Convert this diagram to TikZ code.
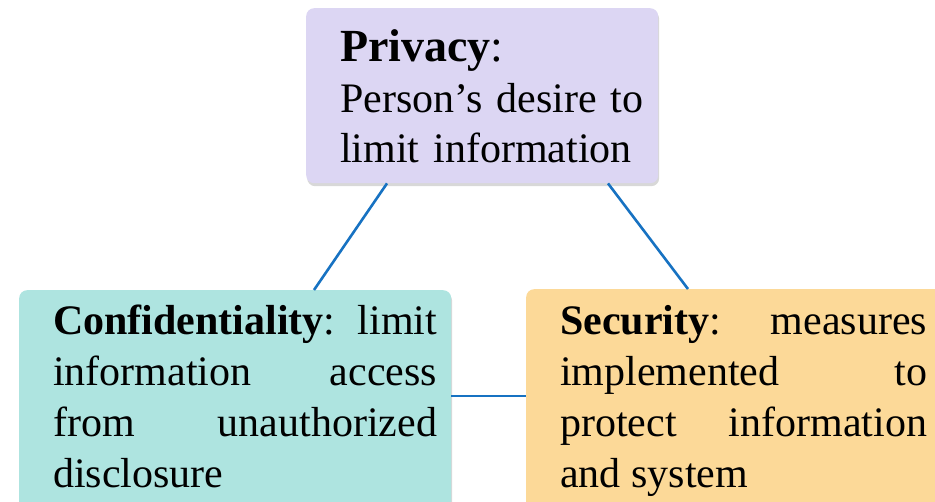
\documentclass[tikz,border=0pt]{standalone}
\usepackage{fontspec}
\setmainfont{Liberation Serif}
\usetikzlibrary{calc,shadows}
\hyphenpenalty=10000\relax
\exhyphenpenalty=10000\relax
\tolerance=10000\relax
\definecolor{privfill}{RGB}{220,214,243}
\definecolor{conffill}{RGB}{174,228,224}
\definecolor{secfill}{RGB}{252,217,152}
\definecolor{linkblue}{RGB}{23,114,194}
\tikzset{
  box/.style={draw=none, rounded corners=8pt, inner sep=0pt,
    drop shadow={shadow xshift=1pt, shadow yshift=-3pt, opacity=0.22, fill=black!70}},
  label/.style={inner sep=0pt, anchor=base west,
    font=\fontsize{42}{51}\selectfont},
  link/.style={draw=linkblue, line width=2.6pt}
}
\begin{document}
\begin{tikzpicture}[x=1pt,y=-1pt]
\useasboundingbox (0,0) rectangle (935,502);

% concept boxes
\node[box, fill=privfill, minimum width=352pt, minimum height=175pt, anchor=north west] (priv) at (306,8) {};
\node[box, fill=conffill, minimum width=432pt, minimum height=240pt, anchor=north west] (conf) at (19,290) {};
\node[box, fill=secfill, minimum width=430pt, minimum height=240pt, anchor=north west] (sec) at (526,289) {};

% links between the concepts
\draw[link] ($(priv.south west)+(81,0)$) -- ($(conf.north west)+(295,0)$);
\draw[link] ($(priv.south west)+(302,0)$) -- ($(sec.north west)+(162,0)$);
\draw[link] ($(conf.north east)+(0,106)$) -- ($(sec.north west)+(0,107)$);

% box texts
\node[label, text width=340pt, align=left, font=\fontsize{42}{50.5}\selectfont] (privtext) at (340,62)
  {{\fontsize{46}{50.5}\selectfont\textbf{Privacy}:}\\Person’s desire to\\limit information};
\node[label, text width=384pt, align=justify] (conftext) at (53,335)
  {\textbf{Confidentiality}: limit\linebreak information access\linebreak from unauthorized\linebreak disclosure};
\node[label, text width=367pt, align=justify] (sectext) at (560,335)
  {\textbf{Security}: measures\linebreak implemented to\linebreak protect information\linebreak and system};
\end{tikzpicture}
\end{document}
